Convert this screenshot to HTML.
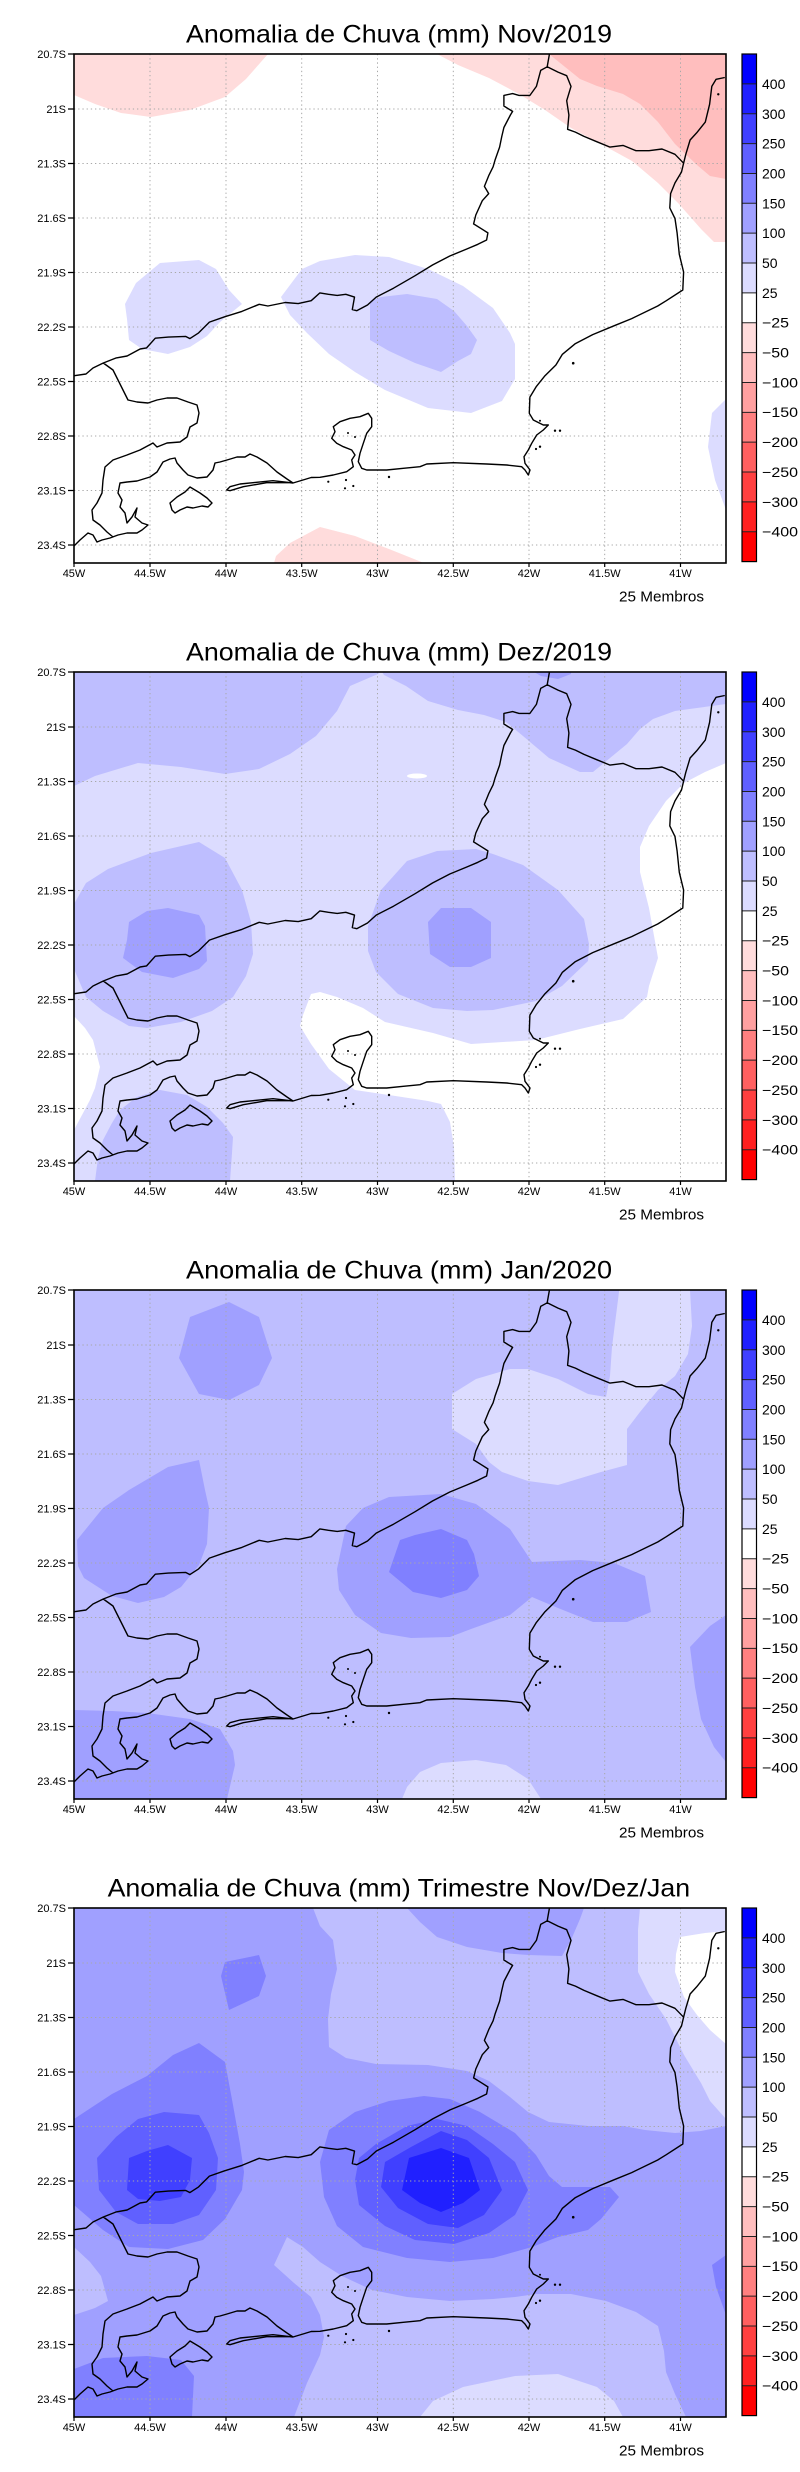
<!DOCTYPE html>
<html><head><meta charset="utf-8"><style>
html,body{margin:0;padding:0;background:#fff;}
svg{display:block;}
text{font-family:"Liberation Sans",sans-serif;fill:#000;}
.t{font-size:25px;}
.yl{font-size:11px;text-anchor:end;}
.xl{font-size:11px;text-anchor:middle;}
.cb{font-size:14px;}
.mb{font-size:15px;}
</style></head><body>
<svg width="800" height="2472" viewBox="0 0 800 2472" xmlns="http://www.w3.org/2000/svg">
<defs>
<clipPath id="clip"><rect x="74" y="54" width="652" height="509"/></clipPath>
<g id="grid" stroke="#a8a8a8" stroke-width="1" stroke-dasharray="1.3 2.9" fill="none">
<path d="M150,54V563M226,54V563M301.7,54V563M377.5,54V563M453.3,54V563M529,54V563M604.7,54V563M680.5,54V563"/>
<path d="M74,109H726M74,163.5H726M74,218H726M74,272.5H726M74,327H726M74,381.5H726M74,436H726M74,490.5H726M74,545H726"/>
</g>
<g id="map">
<path fill="none" stroke="#000" stroke-width="1.4" stroke-linejoin="round" d="M74.3,375.7 L86,374 L93,368 L103.3,363 L116.3,357.9 L127.1,356 L140.1,349 L146.6,347.9 L155.3,338.2 L168.3,337.1 L185.6,336.4 L189.9,338.6 L198.6,332.9 L209.4,322.1 L224.6,316.8 L241.9,311.4 L259.2,304.3 L267.9,306 L285.2,302.5 L298.2,303.6 L311.2,300.7 L319.9,292.9 L328.5,294.3 L337.2,295.4 L345.8,294.3 L354.5,297.1 L352.3,309.6 L356.7,310.7 L367.5,305 L376.2,297.1 L393.5,288.2 L415.1,275.7 L432.5,265 L449.8,256 L467.1,248.9 L477.9,244.3 L486.6,240 L487.9,232.9 L482.3,229.3 L473.6,223.9 L475.8,215 L482.3,200.7 L488.7,193.6 L484.4,186.4 L488.7,175.7 L493.1,166.8 L495.2,159.6 L499.6,147.1 L501.8,136.4 L503.9,127.5 L510.4,115 L512.6,111.4 L503.9,106 L503.9,95.4 L512.6,93.6 L519.1,95.4 L529.9,95.4 L536.4,86.4 L540.7,70.4 L547.2,66.8 L549.4,54.3
M547.2,66.8 L558,72.1 L566.7,75.7 L571,86.4 L566.7,100.7 L568.9,115 L567.6,129.3 L575.4,132.1 L584,136.4 L597,141.8 L610,147.1 L623,145.4 L636,150.7 L649,150.7 L662,149 L675,154.3 L683.6,163.2
M724.8,77.5 L716.1,79.3 L711.8,86.4 L709.6,104.3 L705.3,122.1 L696.6,132.9 L690.1,140 L685.8,154.3 L683.6,163.2 L681.5,172 L675,182.9 L670.6,193.6 L669.8,207.9 L675,218.6 L677.1,232.9 L679.3,254.3 L683.6,272.1 L682.8,290 L666.3,300.7 L657.7,306 L631.7,318.6 L614.3,325.7 L592.7,334.6 L575.4,343.6 L562.4,354.3 L555.9,365 L545,375.7 L536.4,386.4 L529.9,397.1 L529.3,413.3 L533.3,420 L543.3,425 L548.3,425 L543.3,430 L536.7,435 L531.7,443.3 L528.3,450 L524,456.7 L525,463.3 L530,470 L528.3,475 L525,470 L521.7,466.7 L506.7,465 L486.7,464 L453.3,462.7 L426.7,464 L420,466.7 L403.3,468.3 L386.7,470 L373.3,470 L366.7,470 L361.7,468.3 L358.3,461.7 L360,453.3 L363.3,443.3 L366.7,433.3 L371.7,426.7 L371.7,418.3 L368.3,413.3 L360,416.7 L350,418.3 L340,421.7 L333.3,426.7 L335,431.7 L331.7,438.3 L336.7,443.3 L343.3,446.7 L351.7,450 L355,455 L351.7,460 L353.3,466.7 L346.7,471.7 L333.3,475 L320,477.3 L311.2,477.5 L303,480 L293,483 L287,479 L277,472 L267,463 L257,457 L250,454 L245,457 L237,457 L227,460 L220,462 L215,463 L213,470 L207,477 L197,478 L188,475 L183,470 L177,463 L175,458 L170,459 L163,462 L160,467 L157,472 L150,477 L137,481 L127,482 L120,483 L118,493 L122,500 L120,507 L125,513 L127,523 L132,517 L137,508 L135,517 L142,523 L148,525 L142,530 L137,533 L127,533 L118,535 L110,538 L102,540 L97,542 L93,535 L88,533 L80,540 L74,546
M293,483 L273,480.7 L253,482.7 L240,484 L230,486.7 L226.7,490 L230,490.7 L243.3,486.7 L266.7,482.7 L290,482.7
M103.3,363 L113,370 L118,380 L123,390 L128,400 L137,402 L148,403 L157,400 L167,398 L177,398 L188,402 L197,405 L199,413 L197,423 L190,427 L187,437 L180,442 L167,443 L157,447 L153,443 L140,450 L127,455 L113,460 L105,467 L103,480 L102,493 L97,503 L92,510 L93,520 L100,525 L107,532 L113,537
M170,503 L177,497 L185,492 L190,487 L195,490 L200,493 L207,498 L212,503 L208,507 L202,506 L193,508 L187,507 L180,510 L175,513 L172,510 Z"/>
<g fill="#000">
<circle cx="718.3" cy="94.3" r="1.2"/><circle cx="573.2" cy="363.2" r="1.3"/><circle cx="389" cy="477" r="1.2"/><circle cx="346" cy="480" r="1.1"/><circle cx="353.3" cy="486" r="1.1"/><circle cx="345" cy="488.3" r="1.1"/><circle cx="328.3" cy="481.7" r="1.1"/><circle cx="540" cy="446.7" r="1.2"/><circle cx="536" cy="449" r="1.1"/><circle cx="555" cy="430.7" r="1.2"/><circle cx="560" cy="430.7" r="1.2"/><circle cx="540" cy="420.7" r="1"/><circle cx="348" cy="433" r="1"/><circle cx="355" cy="437" r="1"/>
</g>
</g>
<g id="ticks" stroke="#000" stroke-width="1.2">
<path d="M68,54H74M68,109H74M68,163.5H74M68,218H74M68,272.5H74M68,327H74M68,381.5H74M68,436H74M68,490.5H74M68,545H74"/>
<path d="M74,563V567M150,563V567M226,563V567M301.7,563V567M377.5,563V567M453.3,563V567M529,563V567M604.7,563V567M680.5,563V567"/>
</g>
<g id="cbar">
<rect x="742" y="54" width="14.5" height="29.86" fill="#0000ff"/>
<rect x="742" y="83.86" width="14.5" height="29.86" fill="#2020ff"/>
<rect x="742" y="113.72" width="14.5" height="29.86" fill="#4040ff"/>
<rect x="742" y="143.58" width="14.5" height="29.86" fill="#6060ff"/>
<rect x="742" y="173.44" width="14.5" height="29.86" fill="#8080ff"/>
<rect x="742" y="203.3" width="14.5" height="29.86" fill="#a0a0ff"/>
<rect x="742" y="233.16" width="14.5" height="29.86" fill="#bebeff"/>
<rect x="742" y="263.02" width="14.5" height="29.86" fill="#dcdcff"/>
<rect x="742" y="292.88" width="14.5" height="29.86" fill="#ffffff"/>
<rect x="742" y="322.74" width="14.5" height="29.86" fill="#ffdcdc"/>
<rect x="742" y="352.6" width="14.5" height="29.86" fill="#ffbebe"/>
<rect x="742" y="382.46" width="14.5" height="29.86" fill="#ffa0a0"/>
<rect x="742" y="412.32" width="14.5" height="29.86" fill="#ff8080"/>
<rect x="742" y="442.18" width="14.5" height="29.86" fill="#ff6060"/>
<rect x="742" y="472.04" width="14.5" height="29.86" fill="#ff4040"/>
<rect x="742" y="501.9" width="14.5" height="29.86" fill="#ff2020"/>
<rect x="742" y="531.76" width="14.5" height="29.86" fill="#ff0000"/>
<path stroke="#222" stroke-width="1" fill="none" d="M742,83.86H756.5M742,113.72H756.5M742,143.58H756.5M742,173.44H756.5M742,203.3H756.5M742,233.16H756.5M742,263.02H756.5M742,292.88H756.5M742,322.74H756.5M742,352.6H756.5M742,382.46H756.5M742,412.32H756.5M742,442.18H756.5M742,472.04H756.5M742,501.9H756.5M742,531.76H756.5"/>
<rect x="742" y="54" width="14.5" height="507.6" fill="none" stroke="#000" stroke-width="1.2"/>
</g>
</defs>

<!-- PANEL 1 -->
<g>
<g clip-path="url(#clip)">
<rect x="74" y="54" width="652" height="509" fill="#fff"/>
<polygon fill="#ffdcdc" points="74,54 268,54 246,79 225,97 190,110 151,117 121,113 95,104 74,95"/>
<polygon fill="#ffdcdc" points="437,54 726,54 726,242 714,242 701,229 679,204 658,183 632,161 601,144 571,128 545,110 519,94 489,78 458,65"/>
<polygon fill="#ffbebe" points="549,54 726,54 726,179 710,176 697,165 675,144 658,122 640,104 623,94 597,86 580,79"/>
<polygon fill="#ffdcdc" points="274,563 276,556 290,543 320,527 355,536 389,549 424,563"/>
<polygon fill="#dcdcff" points="125,304 136,283 160,263 199,260 216,269 229,290 242,304 220,322 207,336 190,347 168,354 142,349 129,340 127,319"/>
<polygon fill="#dcdcff" points="281,297 302,269 320,261 355,255 389,257 428,269 463,286 493,308 510,333 515,344 515,379 502,401 471,413 428,408 385,390 355,372 329,354 307,333 290,315"/>
<polygon fill="#bebeff" points="370,301 381,297 407,294 437,299 454,311 467,326 477,340 471,354 458,361 441,372 415,363 389,351 370,340"/>
<polygon fill="#dcdcff" points="726,399 712,413 708,447 715,480 726,510"/>
</g>
<use href="#grid"/><use href="#map"/>
<rect x="74" y="54" width="652" height="509" fill="none" stroke="#000" stroke-width="1.6"/>
<use href="#ticks"/><use href="#cbar"/>
<text class="t" x="186" y="42.5" textLength="426" lengthAdjust="spacingAndGlyphs">Anomalia de Chuva (mm) Nov/2019</text>
<text class="yl" x="66" y="58">20.7S</text><text class="yl" x="66" y="113">21S</text><text class="yl" x="66" y="167.5">21.3S</text><text class="yl" x="66" y="222">21.6S</text><text class="yl" x="66" y="276.5">21.9S</text><text class="yl" x="66" y="331">22.2S</text><text class="yl" x="66" y="385.5">22.5S</text><text class="yl" x="66" y="440">22.8S</text><text class="yl" x="66" y="494.5">23.1S</text><text class="yl" x="66" y="549">23.4S</text>
<text class="xl" x="74" y="577">45W</text><text class="xl" x="150" y="577">44.5W</text><text class="xl" x="226" y="577">44W</text><text class="xl" x="301.7" y="577">43.5W</text><text class="xl" x="377.5" y="577">43W</text><text class="xl" x="453.3" y="577">42.5W</text><text class="xl" x="529" y="577">42W</text><text class="xl" x="604.7" y="577">41.5W</text><text class="xl" x="680.5" y="577">41W</text>
<text class="mb" x="619" y="601.5" textLength="85" lengthAdjust="spacingAndGlyphs">25 Membros</text>
<text class="cb" x="762" y="89">400</text><text class="cb" x="762" y="119">300</text><text class="cb" x="762" y="148.5">250</text><text class="cb" x="762" y="178.5">200</text><text class="cb" x="762" y="208.5">150</text><text class="cb" x="762" y="238">100</text><text class="cb" x="762" y="268">50</text><text class="cb" x="762" y="298">25</text>
<text class="cb" x="762" y="327.5" textLength="27" lengthAdjust="spacingAndGlyphs">−25</text><text class="cb" x="762" y="357.5" textLength="27" lengthAdjust="spacingAndGlyphs">−50</text><text class="cb" x="762" y="387.5" textLength="36" lengthAdjust="spacingAndGlyphs">−100</text><text class="cb" x="762" y="417" textLength="36" lengthAdjust="spacingAndGlyphs">−150</text><text class="cb" x="762" y="447" textLength="36" lengthAdjust="spacingAndGlyphs">−200</text><text class="cb" x="762" y="477" textLength="36" lengthAdjust="spacingAndGlyphs">−250</text><text class="cb" x="762" y="507" textLength="36" lengthAdjust="spacingAndGlyphs">−300</text><text class="cb" x="762" y="536.5" textLength="36" lengthAdjust="spacingAndGlyphs">−400</text>
</g>

<!-- PANEL 2 -->
<g transform="translate(0,618)">
<g clip-path="url(#clip)">
<rect x="74" y="54" width="652" height="509" fill="#dcdcff"/>
<polygon fill="#bebeff" points="74,54 380,54 378,56 350,68 337,93 316,118 290,136 259,151 225,156 181,149 138,145 95,158 74,168"/>
<polygon fill="#bebeff" points="382,54 726,54 726,86 697,90 675,93 653,101 640,111 627,126 610,140 593,154 580,154 549,140 523,118 506,104 484,97 458,92 428,83 406,68 384,57"/>
<polygon fill="#a0a0ff" points="534,54 571,54 571,56 558,61 541,58"/>
<polygon fill="#fff" points="726,145 705,154 684,165 666,183 649,208 640,229 640,254 649,290 658,340 649,368 647,379 623,401 580,411 536,422 471,426 433,415 385,404 363,390 337,379 320,374 311,376 303,397 300,408 311,426 329,451 355,472 389,477 428,483 441,486 450,504 454,529 455,563 726,563"/>
<ellipse cx="417" cy="158" rx="10" ry="2.5" fill="#fff"/>
<polygon fill="#fff" points="74,398 85,410 93,422 100,449 95,470 90,482 74,512"/>
<polygon fill="#bebeff" points="74,286 86,265 108,251 151,235 199,224 225,240 242,272 251,304 253,336 246,358 233,379 212,393 181,404 147,410 129,408 103,393 86,379 74,351"/>
<polygon fill="#a0a0ff" points="129,304 147,293 168,290 199,297 205,308 207,343 199,351 173,360 142,354 123,340 127,322"/>
<polygon fill="#bebeff" points="368,308 381,272 407,243 437,233 476,231 493,236 523,247 558,272 584,301 589,326 588,343 562,368 536,383 493,392 467,393 433,390 398,376 376,354 368,333"/>
<polygon fill="#a0a0ff" points="428,304 441,290 471,290 491,304 491,340 471,349 450,349 430,336"/>
<polygon fill="#bebeff" points="95,563 98,540 103,522 112,505 120,492 137,479 160,472 187,477 207,489 223,505 233,519 232,535 230,563"/>
</g>
<use href="#grid"/><use href="#map"/>
<rect x="74" y="54" width="652" height="509" fill="none" stroke="#000" stroke-width="1.6"/>
<use href="#ticks"/><use href="#cbar"/>
<text class="t" x="186" y="42.5" textLength="426" lengthAdjust="spacingAndGlyphs">Anomalia de Chuva (mm) Dez/2019</text>
<text class="yl" x="66" y="58">20.7S</text><text class="yl" x="66" y="113">21S</text><text class="yl" x="66" y="167.5">21.3S</text><text class="yl" x="66" y="222">21.6S</text><text class="yl" x="66" y="276.5">21.9S</text><text class="yl" x="66" y="331">22.2S</text><text class="yl" x="66" y="385.5">22.5S</text><text class="yl" x="66" y="440">22.8S</text><text class="yl" x="66" y="494.5">23.1S</text><text class="yl" x="66" y="549">23.4S</text>
<text class="xl" x="74" y="577">45W</text><text class="xl" x="150" y="577">44.5W</text><text class="xl" x="226" y="577">44W</text><text class="xl" x="301.7" y="577">43.5W</text><text class="xl" x="377.5" y="577">43W</text><text class="xl" x="453.3" y="577">42.5W</text><text class="xl" x="529" y="577">42W</text><text class="xl" x="604.7" y="577">41.5W</text><text class="xl" x="680.5" y="577">41W</text>
<text class="mb" x="619" y="601.5" textLength="85" lengthAdjust="spacingAndGlyphs">25 Membros</text>
<text class="cb" x="762" y="89">400</text><text class="cb" x="762" y="119">300</text><text class="cb" x="762" y="148.5">250</text><text class="cb" x="762" y="178.5">200</text><text class="cb" x="762" y="208.5">150</text><text class="cb" x="762" y="238">100</text><text class="cb" x="762" y="268">50</text><text class="cb" x="762" y="298">25</text>
<text class="cb" x="762" y="327.5" textLength="27" lengthAdjust="spacingAndGlyphs">−25</text><text class="cb" x="762" y="357.5" textLength="27" lengthAdjust="spacingAndGlyphs">−50</text><text class="cb" x="762" y="387.5" textLength="36" lengthAdjust="spacingAndGlyphs">−100</text><text class="cb" x="762" y="417" textLength="36" lengthAdjust="spacingAndGlyphs">−150</text><text class="cb" x="762" y="447" textLength="36" lengthAdjust="spacingAndGlyphs">−200</text><text class="cb" x="762" y="477" textLength="36" lengthAdjust="spacingAndGlyphs">−250</text><text class="cb" x="762" y="507" textLength="36" lengthAdjust="spacingAndGlyphs">−300</text><text class="cb" x="762" y="536.5" textLength="36" lengthAdjust="spacingAndGlyphs">−400</text>
</g>

<!-- PANEL 3 -->
<g transform="translate(0,1236)">
<g clip-path="url(#clip)">
<rect x="74" y="54" width="652" height="509" fill="#bebeff"/>
<polygon fill="#a0a0ff" points="190,81 229,66 259,81 272,122 259,149 229,164 199,158 179,122"/>
<polygon fill="#a0a0ff" points="77,304 103,272 129,254 168,231 199,224 205,254 209,272 207,308 199,329 181,351 164,361 138,367 112,360 84,342 78,330"/>
<polygon fill="#a0a0ff" points="346,290 363,272 389,261 441,258 476,268 510,293 532,326 580,324 614,327 645,340 651,376 627,386 593,386 558,372 532,361 510,379 471,393 450,401 411,402 381,397 355,379 339,354 337,333"/>
<polygon fill="#8080ff" points="389,336 400,304 415,299 441,293 467,304 474,318 479,340 467,354 441,362 413,356"/>
<polygon fill="#dcdcff" points="452,158 476,143 510,133 528,133 558,143 588,158 606,161 610,140 612,111 619,56 619,54 690,54 692,90 688,118 675,140 658,154 640,176 627,193 627,229 601,236 558,249 528,245 502,236 489,226 476,208 452,193"/>
<polygon fill="#a0a0ff" points="726,379 710,390 690,411 695,451 701,483 714,511 726,526"/>
<polygon fill="#a0a0ff" points="74,474 112,475 147,477 190,483 220,493 233,515 235,529 227,563 74,563"/>
<polygon fill="#dcdcff" points="402,563 407,551 420,536 441,527 476,524 506,529 528,543 541,563"/>
</g>
<use href="#grid"/><use href="#map"/>
<rect x="74" y="54" width="652" height="509" fill="none" stroke="#000" stroke-width="1.6"/>
<use href="#ticks"/><use href="#cbar"/>
<text class="t" x="186" y="42.5" textLength="426" lengthAdjust="spacingAndGlyphs">Anomalia de Chuva (mm) Jan/2020</text>
<text class="yl" x="66" y="58">20.7S</text><text class="yl" x="66" y="113">21S</text><text class="yl" x="66" y="167.5">21.3S</text><text class="yl" x="66" y="222">21.6S</text><text class="yl" x="66" y="276.5">21.9S</text><text class="yl" x="66" y="331">22.2S</text><text class="yl" x="66" y="385.5">22.5S</text><text class="yl" x="66" y="440">22.8S</text><text class="yl" x="66" y="494.5">23.1S</text><text class="yl" x="66" y="549">23.4S</text>
<text class="xl" x="74" y="577">45W</text><text class="xl" x="150" y="577">44.5W</text><text class="xl" x="226" y="577">44W</text><text class="xl" x="301.7" y="577">43.5W</text><text class="xl" x="377.5" y="577">43W</text><text class="xl" x="453.3" y="577">42.5W</text><text class="xl" x="529" y="577">42W</text><text class="xl" x="604.7" y="577">41.5W</text><text class="xl" x="680.5" y="577">41W</text>
<text class="mb" x="619" y="601.5" textLength="85" lengthAdjust="spacingAndGlyphs">25 Membros</text>
<text class="cb" x="762" y="89">400</text><text class="cb" x="762" y="119">300</text><text class="cb" x="762" y="148.5">250</text><text class="cb" x="762" y="178.5">200</text><text class="cb" x="762" y="208.5">150</text><text class="cb" x="762" y="238">100</text><text class="cb" x="762" y="268">50</text><text class="cb" x="762" y="298">25</text>
<text class="cb" x="762" y="327.5" textLength="27" lengthAdjust="spacingAndGlyphs">−25</text><text class="cb" x="762" y="357.5" textLength="27" lengthAdjust="spacingAndGlyphs">−50</text><text class="cb" x="762" y="387.5" textLength="36" lengthAdjust="spacingAndGlyphs">−100</text><text class="cb" x="762" y="417" textLength="36" lengthAdjust="spacingAndGlyphs">−150</text><text class="cb" x="762" y="447" textLength="36" lengthAdjust="spacingAndGlyphs">−200</text><text class="cb" x="762" y="477" textLength="36" lengthAdjust="spacingAndGlyphs">−250</text><text class="cb" x="762" y="507" textLength="36" lengthAdjust="spacingAndGlyphs">−300</text><text class="cb" x="762" y="536.5" textLength="36" lengthAdjust="spacingAndGlyphs">−400</text>
</g>

<!-- PANEL 4 -->
<g transform="translate(0,1854)">
<g clip-path="url(#clip)">
<rect x="74" y="54" width="652" height="509" fill="#a0a0ff"/>
<polygon fill="#bebeff" points="313,54 726,54 726,272 701,277 675,279 645,276 623,272 588,272 549,268 528,258 510,243 489,227 467,217 428,211 376,210 346,204 329,193 328,165 331,140 337,115 333,86 320,72"/>
<polygon fill="#a0a0ff" points="407,54 584,54 580,65 571,86 562,102 528,101 502,99 467,93 437,83 420,68"/>
<polygon fill="#dcdcff" points="640,54 726,54 726,265 710,247 701,229 684,201 666,165 649,140 638,118 638,76"/>
<polygon fill="#fff" points="726,77 705,79 680,83 676,100 675,118 684,143 697,161 710,176 726,190"/>
<polygon fill="#8080ff" points="225,108 259,101 266,122 259,142 229,156 221,122"/>
<polygon fill="#8080ff" points="74,265 112,240 147,222 173,201 199,189 225,208 233,251 240,290 244,318 242,336 225,365 203,386 168,395 129,393 103,376 74,351"/>
<polygon fill="#6060ff" points="97,304 116,283 138,265 164,258 199,261 209,279 218,304 216,336 199,361 173,370 138,370 116,358 99,336"/>
<polygon fill="#4040ff" points="129,304 147,297 168,291 192,304 190,326 181,343 160,347 138,345 127,336"/>
<polygon fill="#8080ff" points="320,308 329,276 355,258 389,247 424,242 450,245 480,258 515,279 536,301 549,322 562,333 610,333 619,343 601,365 588,376 558,383 532,393 493,404 450,408 407,404 363,393 337,372 324,343"/>
<polygon fill="#6060ff" points="355,326 359,304 376,290 407,272 437,265 467,272 493,290 515,308 528,336 515,361 489,379 454,390 415,386 385,372 359,351"/>
<polygon fill="#4040ff" points="381,333 385,308 411,293 441,277 467,286 489,304 502,336 484,361 458,374 428,370 398,354"/>
<polygon fill="#2020ff" points="402,336 409,304 441,294 469,304 480,336 463,349 441,358 420,349"/>
<polygon fill="#bebeff" points="274,411 287,383 303,393 320,408 342,422 372,436 407,443 450,447 493,445 515,443 536,440 571,440 606,447 636,458 658,472 664,497 666,518 675,540 686,563 294,563 307,529 320,501 324,483 320,461 311,443 294,429"/>
<polygon fill="#dcdcff" points="420,563 433,547 463,533 515,522 558,520 597,533 614,547 623,563"/>
<polygon fill="#bebeff" points="74,393 90,408 101,422 108,447 95,454 74,461"/>
<polygon fill="#8080ff" points="74,515 103,504 147,502 181,506 194,522 192,563 74,563"/>
<polygon fill="#8080ff" points="726,401 712,411 716,433 726,461"/>
</g>
<use href="#grid"/><use href="#map"/>
<rect x="74" y="54" width="652" height="509" fill="none" stroke="#000" stroke-width="1.6"/>
<use href="#ticks"/><use href="#cbar"/>
<text class="t" x="107.6" y="42.5" textLength="582.5" lengthAdjust="spacingAndGlyphs">Anomalia de Chuva (mm) Trimestre Nov/Dez/Jan</text>
<text class="yl" x="66" y="58">20.7S</text><text class="yl" x="66" y="113">21S</text><text class="yl" x="66" y="167.5">21.3S</text><text class="yl" x="66" y="222">21.6S</text><text class="yl" x="66" y="276.5">21.9S</text><text class="yl" x="66" y="331">22.2S</text><text class="yl" x="66" y="385.5">22.5S</text><text class="yl" x="66" y="440">22.8S</text><text class="yl" x="66" y="494.5">23.1S</text><text class="yl" x="66" y="549">23.4S</text>
<text class="xl" x="74" y="577">45W</text><text class="xl" x="150" y="577">44.5W</text><text class="xl" x="226" y="577">44W</text><text class="xl" x="301.7" y="577">43.5W</text><text class="xl" x="377.5" y="577">43W</text><text class="xl" x="453.3" y="577">42.5W</text><text class="xl" x="529" y="577">42W</text><text class="xl" x="604.7" y="577">41.5W</text><text class="xl" x="680.5" y="577">41W</text>
<text class="mb" x="619" y="601.5" textLength="85" lengthAdjust="spacingAndGlyphs">25 Membros</text>
<text class="cb" x="762" y="89">400</text><text class="cb" x="762" y="119">300</text><text class="cb" x="762" y="148.5">250</text><text class="cb" x="762" y="178.5">200</text><text class="cb" x="762" y="208.5">150</text><text class="cb" x="762" y="238">100</text><text class="cb" x="762" y="268">50</text><text class="cb" x="762" y="298">25</text>
<text class="cb" x="762" y="327.5" textLength="27" lengthAdjust="spacingAndGlyphs">−25</text><text class="cb" x="762" y="357.5" textLength="27" lengthAdjust="spacingAndGlyphs">−50</text><text class="cb" x="762" y="387.5" textLength="36" lengthAdjust="spacingAndGlyphs">−100</text><text class="cb" x="762" y="417" textLength="36" lengthAdjust="spacingAndGlyphs">−150</text><text class="cb" x="762" y="447" textLength="36" lengthAdjust="spacingAndGlyphs">−200</text><text class="cb" x="762" y="477" textLength="36" lengthAdjust="spacingAndGlyphs">−250</text><text class="cb" x="762" y="507" textLength="36" lengthAdjust="spacingAndGlyphs">−300</text><text class="cb" x="762" y="536.5" textLength="36" lengthAdjust="spacingAndGlyphs">−400</text>
</g>
</svg>
</body></html>
